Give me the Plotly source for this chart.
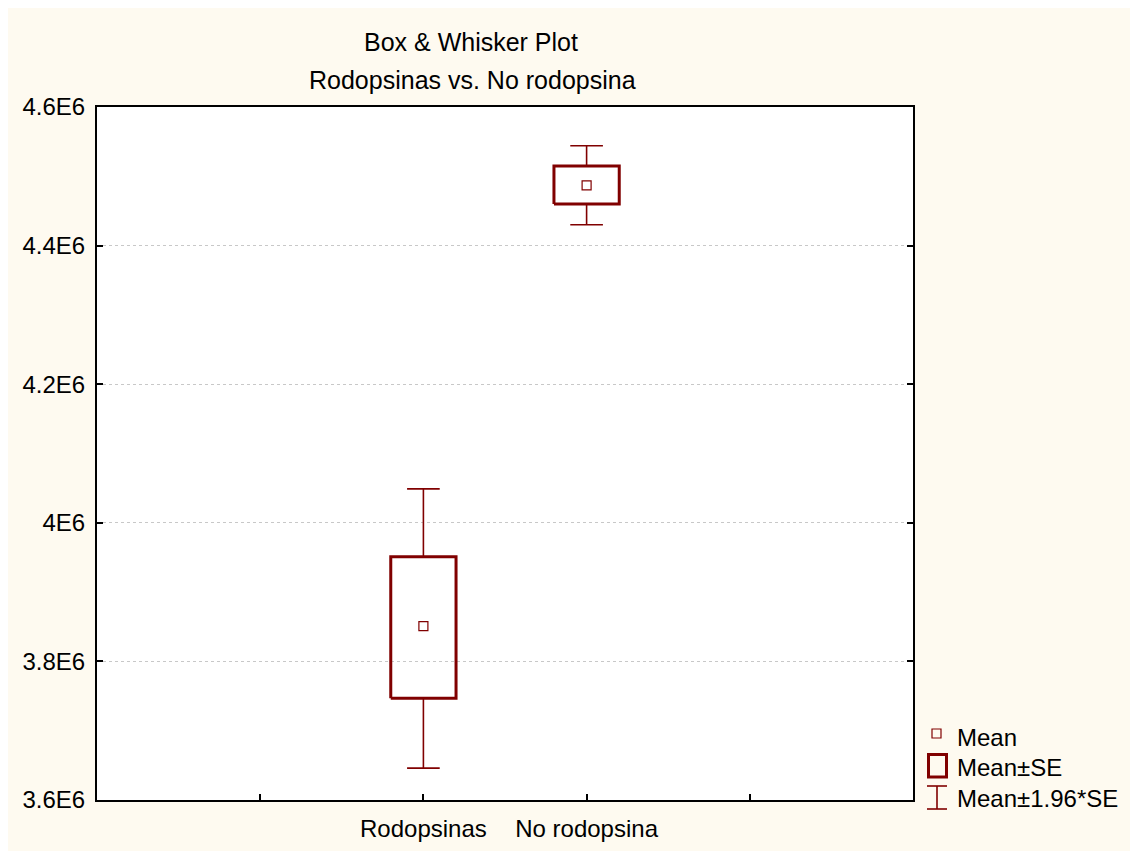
import plotly.graph_objects as go

# ---- data ----
categories = ["Rodopsinas", "No rodopsina"]
means = [3.851e6, 4.487e6]
se_low = [3.747e6, 4.460e6]
se_high = [3.951e6, 4.515e6]
ci_low = [3.646e6, 4.430e6]
ci_high = [4.049e6, 4.544e6]
y_tickvals = [3.6e6, 3.8e6, 4.0e6, 4.2e6, 4.4e6, 4.6e6]
y_ticktext = ["3.6E6", "3.8E6", "4E6", "4.2E6", "4.4E6", "4.6E6"]
title_lines = ["Box & Whisker Plot", "Rodopsinas vs. No rodopsina"]
legend_labels = ["Mean", "Mean±SE", "Mean±1.96*SE"]

# ---- styling / layout constants (screen px, page has 8px body margin) ----
OFF = 8
W, H = 1138, 851
L, R, T, B = 97, 913, 107, 800          # plot area on screen
DARK = "#800000"
FONT = "Liberation Sans, Arial, sans-serif"
FS = 24
FS_TITLE = 25
BOX_HALF = 0.2
CAP_HALF = 0.1
positions = [1, 2]


def px(xs):
    return (xs - L) / (R - L)


def py(ys):
    return (B - ys) / (B - T)


bx, by, wx, wy = [], [], [], []
for p, lo, hi, clo, chi in zip(positions, se_low, se_high, ci_low, ci_high):
    bx += [p - BOX_HALF, p + BOX_HALF, p + BOX_HALF, p - BOX_HALF, p - BOX_HALF, None]
    by += [lo, lo, hi, hi, lo, None]
    wx += [p, p, None, p - CAP_HALF, p + CAP_HALF, None,
           p, p, None, p - CAP_HALF, p + CAP_HALF, None]
    wy += [hi, chi, None, chi, chi, None,
           lo, clo, None, clo, clo, None]

fig = go.Figure()
fig.add_trace(go.Scatter(x=wx, y=wy, mode="lines",
                         line=dict(color=DARK, width=1.6),
                         hoverinfo="skip", showlegend=False))
fig.add_trace(go.Scatter(x=bx, y=by, mode="lines",
                         line=dict(color=DARK, width=3),
                         hoverinfo="skip", showlegend=False))
fig.add_trace(go.Scatter(x=positions, y=means, mode="markers",
                         marker=dict(symbol="square-open", size=9,
                                     color=DARK, line=dict(width=1.2, color=DARK)),
                         text=categories, showlegend=False))

shapes = [
    # legend symbols
    dict(type="rect", xref="paper", yref="paper",
         x0=px(932), x1=px(941), y0=py(738), y1=py(729),
         line=dict(color=DARK, width=1.2)),
    dict(type="rect", xref="paper", yref="paper",
         x0=px(928.5), x1=px(946.5), y0=py(777), y1=py(754.5),
         line=dict(color=DARK, width=3)),
    dict(type="line", xref="paper", yref="paper",
         x0=px(937), x1=px(937), y0=py(809), y1=py(786),
         line=dict(color=DARK, width=1.6)),
    dict(type="line", xref="paper", yref="paper",
         x0=px(927), x1=px(947), y0=py(786), y1=py(786),
         line=dict(color=DARK, width=1.6)),
    dict(type="line", xref="paper", yref="paper",
         x0=px(927), x1=px(947), y0=py(809), y1=py(809),
         line=dict(color=DARK, width=1.6)),
]

annotations = [
    dict(text=title_lines[0], xref="paper", yref="paper", x=px(471), y=py(42),
         showarrow=False, xanchor="center", yanchor="middle",
         font=dict(family=FONT, size=FS_TITLE, color="black")),
    dict(text=title_lines[1], xref="paper", yref="paper", x=px(472), y=py(80),
         showarrow=False, xanchor="center", yanchor="middle",
         font=dict(family=FONT, size=FS_TITLE, color="black")),
]
for lab, yc in zip(legend_labels, [737, 767, 798]):
    annotations.append(dict(text=lab, xref="paper", yref="paper", x=px(955), y=py(yc),
                            showarrow=False, xanchor="left", yanchor="middle",
                            font=dict(family=FONT, size=FS, color="black")))

fig.update_layout(
    width=W, height=H,
    margin=dict(l=L - OFF, r=W - (R - OFF), t=T - OFF, b=H - (B - OFF), pad=0),
    paper_bgcolor="#FEFAF0",
    plot_bgcolor="white",
    showlegend=False,
    shapes=shapes,
    annotations=annotations,
    font=dict(family=FONT, size=FS, color="black"),
)
fig.update_xaxes(
    range=[-1, 4], tickmode="array", tickvals=[0, 1, 2, 3],
    ticktext=["", categories[0], categories[1], ""],
    ticks="inside", ticklen=6, tickwidth=1.5, tickcolor="black",
    showline=True, linecolor="black", linewidth=2, mirror=True,
    showgrid=False, zeroline=False, ticklabelstandoff=6,
    tickfont=dict(family=FONT, size=FS, color="black"),
)
fig.update_yaxes(
    range=[3.6e6, 4.6e6], tickmode="array", tickvals=y_tickvals, ticktext=y_ticktext,
    ticks="inside", ticklen=6, tickwidth=1.5, tickcolor="black",
    showline=True, linecolor="black", linewidth=2, mirror="ticks",
    showgrid=True, gridcolor="#C8C8C8", gridwidth=1, griddash="dot",
    zeroline=False, ticklabelstandoff=5,
    tickfont=dict(family=FONT, size=FS, color="black"),
)

fig.write_html("out.html")
